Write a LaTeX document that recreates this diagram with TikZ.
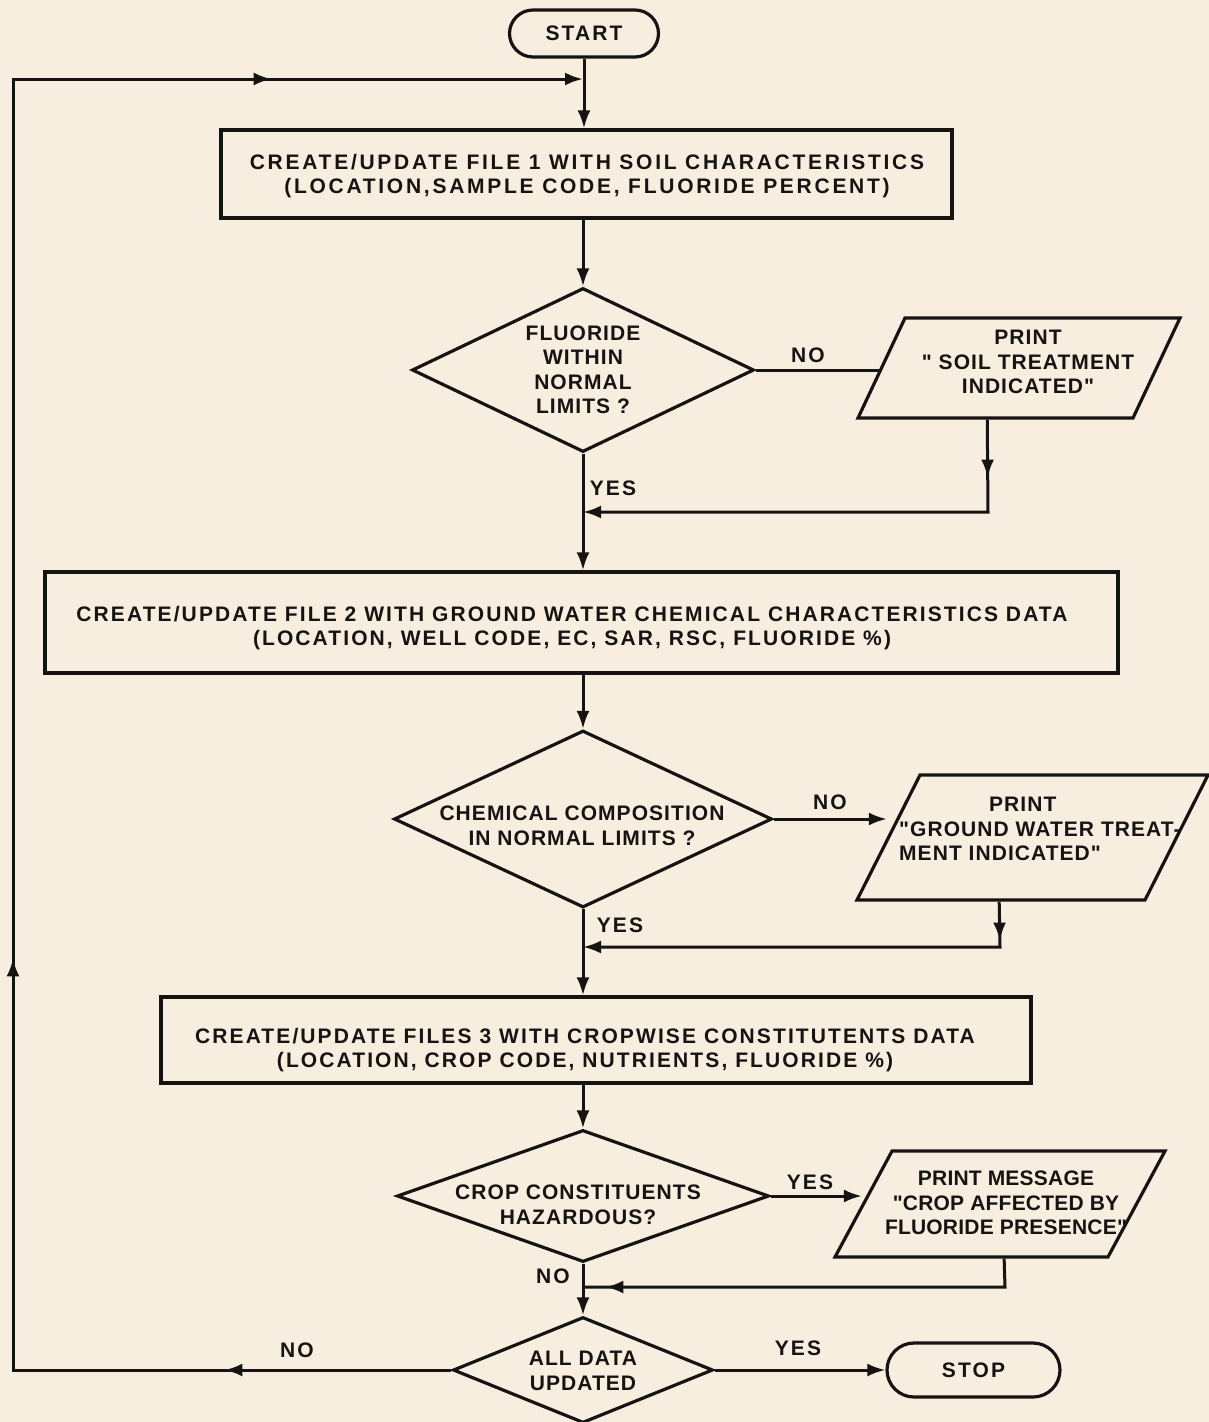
\documentclass[tikz,border=0pt]{standalone}
\usepackage{fontspec}
\newfontfamily\lettering{Liberation Sans}[LetterSpace=10]
\newfontfamily\letteringwide{Liberation Sans}[LetterSpace=13]
\newfontfamily\letteringmid{Liberation Sans}[LetterSpace=5]
\newfontfamily\letteringtight{Liberation Sans}[LetterSpace=1]
\usetikzlibrary{shapes.geometric,shapes.misc,arrows.meta,decorations.markings}
\definecolor{paper}{RGB}{248,238,224}
\definecolor{ink}{RGB}{22,20,18}
\begin{document}
\begin{tikzpicture}[x=1pt,y=-1pt,
  line/.style={draw=ink, line width=3pt},
  arr/.style={line, -{Latex[length=18pt,width=13pt]}},
  txtbase/.style={text=ink, inner sep=0pt, align=center},
  txt/.style={txtbase, font=\lettering\fontsize{21}{24.5}\selectfont\bfseries},
  txtw/.style={txtbase, font=\letteringwide\fontsize{21}{24.5}\selectfont\bfseries},
  txtm/.style={txtbase, font=\letteringmid\fontsize{21}{24.5}\selectfont\bfseries},
  txtt/.style={txtbase, font=\letteringtight\fontsize{21}{24.5}\selectfont\bfseries},
  shp/.style={draw=ink, line width=3.2pt, inner sep=0pt},
  term/.style={shp, rounded rectangle, txt},
  procbox/.style={shp, rectangle},
  decision/.style={shp, diamond, inner sep=2pt},
  iobox/.style={shp, rectangle, transform shape},
  midarrow/.style={postaction={decorate}, decoration={markings, mark=at position #1 with {\arrow{Latex[length=18pt,width=13pt]}}}}
]
\fill[paper] (0,0) rectangle (1209,1422);
\useasboundingbox (0,0) rectangle (1209,1422);

% terminals
\node[term, minimum width=149pt, minimum height=47pt] (start) at (584,33.5) {START};
\node[term, minimum width=173pt, minimum height=54pt] (stop) at (973.5,1370) {STOP};

% process boxes
\node[procbox, minimum width=731pt, minimum height=88pt] (box1) at (586.5,174) {};
\node[txtw] (box1t) at (587,176) {CREATE/UPDATE FILE 1 WITH SOIL CHARACTERISTICS\\(LOCATION,SAMPLE CODE, FLUORIDE PERCENT)};
\node[procbox, minimum width=1073pt, minimum height=101pt] (box2) at (581.5,622.5) {};
\node[txt] (box2t) at (572,628) {CREATE/UPDATE FILE 2 WITH GROUND WATER CHEMICAL CHARACTERISTICS DATA\\(LOCATION, WELL CODE, EC, SAR, RSC, FLUORIDE \%)};
\node[procbox, minimum width=870pt, minimum height=86pt] (box3) at (596,1040) {};
\node[txt] (box3t) at (585,1050) {CREATE/UPDATE FILES 3 WITH CROPWISE CONSTITUTENTS DATA\\(LOCATION, CROP CODE, NUTRIENTS, FLUORIDE \%)};

% decisions
\node[decision, minimum width=342pt, minimum height=164pt] (d1) at (583,370) {\strut};
\node[txtm] (d1t) at (583,370) {FLUORIDE\\WITHIN\\NORMAL\\LIMITS ?};
\node[decision, minimum width=378pt, minimum height=177pt] (d2) at (583,819) {\strut};
\node[txtm] (d2t) at (582,826) {CHEMICAL COMPOSITION\\IN NORMAL LIMITS ?};
\node[decision, minimum width=372pt, minimum height=132pt] (d3) at (583,1196) {\strut};
\node[txtm] (d3t) at (578,1205) {CROP CONSTITUENTS\\HAZARDOUS?};
\node[decision, minimum width=260pt, minimum height=106pt] (d4) at (583,1370) {\strut};
\node[txtm] (d4t) at (583,1371) {ALL DATA\\UPDATED};

% outputs (parallelograms)
\node[iobox, xslant=0.47, minimum width=275pt, minimum height=100pt] (p1) at (1019,368) {};
\node[txtm] (p1t) at (1028,362) {PRINT\\" SOIL TREATMENT\\INDICATED"};
\node[iobox, xslant=0.504, minimum width=288pt, minimum height=125pt] (p2) at (1032.5,837.5) {};
\node[txtm, align=left, anchor=west] (p2t) at (899,829) {\hspace*{90pt}PRINT\\"GROUND WATER TREAT-\\MENT INDICATED"};
\node[iobox, xslant=0.538, minimum width=273pt, minimum height=106pt] (p3) at (1000,1204) {};
\node[txtt] (p3t) at (1006,1203) {PRINT MESSAGE\\"CROP AFFECTED BY\\FLUORIDE PRESENCE"};

% labels
\node[txt] (no1) at (808,355) {NO};
\node[txt] (yes1) at (613,488) {YES};
\node[txt] (no2) at (830,802) {NO};
\node[txt] (yes2) at (620,925) {YES};
\node[txt] (yes3) at (810,1182) {YES};
\node[txt] (no3) at (553,1276) {NO};
\node[txt] (no4) at (297,1350) {NO};
\node[txt] (yes4) at (798,1348) {YES};

% junction coordinates
\coordinate (j0) at (583,79);
\coordinate (lt) at (13,79);
\coordinate (lb) at (13,1370);
\coordinate (c1) at (988,512);
\coordinate (j1) at (583,512);
\coordinate (c2) at (1000,947);
\coordinate (j2) at (583,947);
\coordinate (c3) at (1005,1287);
\coordinate (j3) at (583,1287);

% connectors
\draw[arr] (start.south) -- (start.south |- box1.north);
\draw[arr] (box1.south -| d1.north) -- (d1.north);
\draw[line] (d1.east) -- (d1.east -| p1.west);
\draw[arr, midarrow=58pt] ([xshift=-7.5pt]p1.south) -- (c1) -- (j1);
\draw[arr] (d1.south) -- (d1.south |- box2.north);
\draw[arr] (box2.south -| d2.north) -- (d2.north);
\draw[arr] (d2.east) -- (d2.east -| p2.west);
\draw[arr, midarrow=39pt] ([xshift=-1pt]p2.south) -- (c2) -- (j2);
\draw[arr] (d2.south) -- (d2.south |- box3.north);
\draw[arr] (box3.south -| d3.north) -- (d3.north);
\draw[arr] (d3.east) -- (d3.east -| p3.west);
\draw[line, midarrow=428pt] ([xshift=33.5pt]p3.south) -- (c3) -- (j3);
\draw[arr] (d3.south) -- (d4.north);
\draw[arr] (d4.east) -- (stop.west);
\draw[arr, postaction={decorate}, decoration={markings,
    mark=at position 227pt with {\arrow{Latex[length=18pt,width=13pt]}},
    mark=at position 850pt with {\arrow{Latex[length=18pt,width=13pt]}},
    mark=at position 1988pt with {\arrow{Latex[length=18pt,width=13pt]}}}]
  (d4.west) -- (lb) -- (lt) -- (j0);
\end{tikzpicture}
\end{document}
